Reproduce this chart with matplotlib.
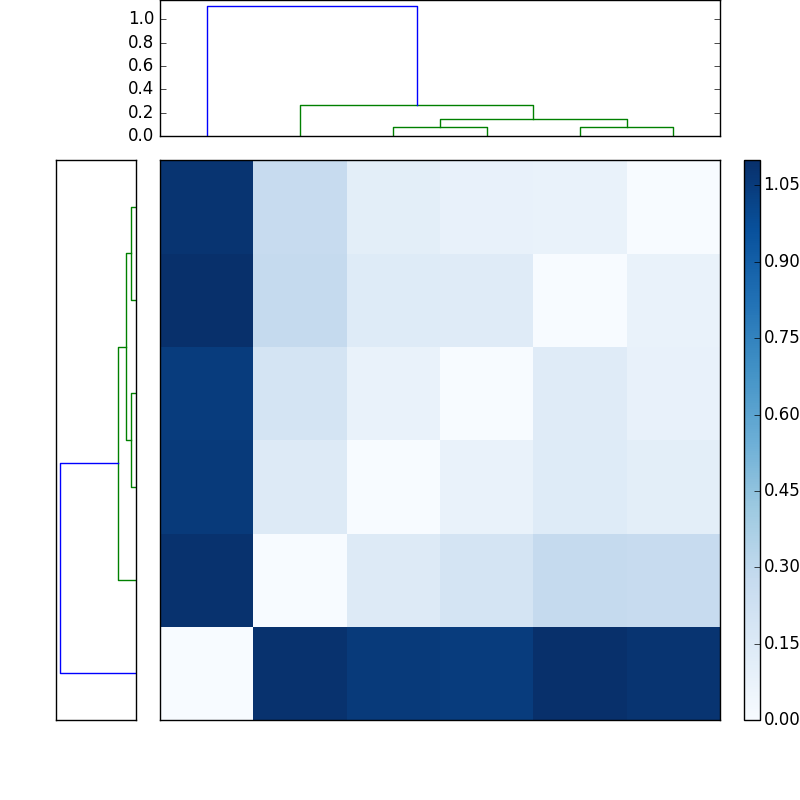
import numpy as np
import matplotlib
matplotlib.use("Agg")
import matplotlib.pyplot as plt

plt.style.use("classic")

# pairwise distances, rows/cols already in leaf order (symmetric)
dist = np.array([
    [0.00, 1.09, 1.055, 1.045, 1.10, 1.08],
    [1.09, 0.00, 0.14, 0.19, 0.275, 0.27],
    [1.055, 0.14, 0.00, 0.075, 0.135, 0.11],
    [1.045, 0.19, 0.075, 0.00, 0.13, 0.085],
    [1.10, 0.275, 0.135, 0.13, 0.00, 0.075],
    [1.08, 0.27, 0.11, 0.085, 0.075, 0.00],
])

# linkage steps: merge cluster a with b at height h (new ids start at 6)
merge_a = [2, 4, 6, 1, 0]
merge_b = [3, 5, 7, 8, 9]
merge_h = [0.077, 0.080, 0.148, 0.268, 1.111]

cbar_ticks = [0.00, 0.15, 0.30, 0.45, 0.60, 0.75, 0.90, 1.05]


def dendro_links(n):
    pos = {i: float(i) for i in range(n)}
    hgt = {i: 0.0 for i in range(n)}
    links = []
    for k, (a, b, h) in enumerate(zip(merge_a, merge_b, merge_h)):
        xs = [pos[a], pos[a], pos[b], pos[b]]
        ys = [hgt[a], h, h, hgt[b]]
        links.append((xs, ys, h))
        pos[n + k] = (pos[a] + pos[b]) / 2.0
        hgt[n + k] = h
    return links


n = dist.shape[0]
links = dendro_links(n)
mh = max(merge_h)
thresh = 0.7 * mh
top = mh * 1.05

fig = plt.figure(figsize=(8, 8), dpi=100, facecolor="white")

# left dendrogram
ax1 = fig.add_axes([0.07, 0.1, 0.1, 0.7])
for xs, ys, h in links:
    ax1.plot(ys, xs, color="b" if h > thresh else "g")
ax1.set_xlim(top, 0)
ax1.set_ylim(-0.5, n - 0.5)
ax1.set_xticks([])
ax1.set_yticks([])

# top dendrogram
ax2 = fig.add_axes([0.2, 0.83, 0.7, 0.17])
for xs, ys, h in links:
    ax2.plot(xs, ys, color="b" if h > thresh else "g")
ax2.set_xlim(-0.5, n - 0.5)
ax2.set_ylim(0, top)
ax2.set_xticks([])
ax2.set_yticks([0.0, 0.2, 0.4, 0.6, 0.8, 1.0])

# heatmap
axm = fig.add_axes([0.2, 0.1, 0.7, 0.7])
im = axm.imshow(dist, aspect="auto", origin="lower", cmap="Blues",
                interpolation="nearest", vmin=0, vmax=dist.max())
axm.set_xticks([])
axm.set_yticks([])

cax = fig.add_axes([0.93, 0.1, 0.02, 0.7])
fig.colorbar(im, cax=cax, ticks=cbar_ticks)
cax.tick_params(pad=2.5)

fig.savefig("out.png", dpi=100, facecolor="white")
